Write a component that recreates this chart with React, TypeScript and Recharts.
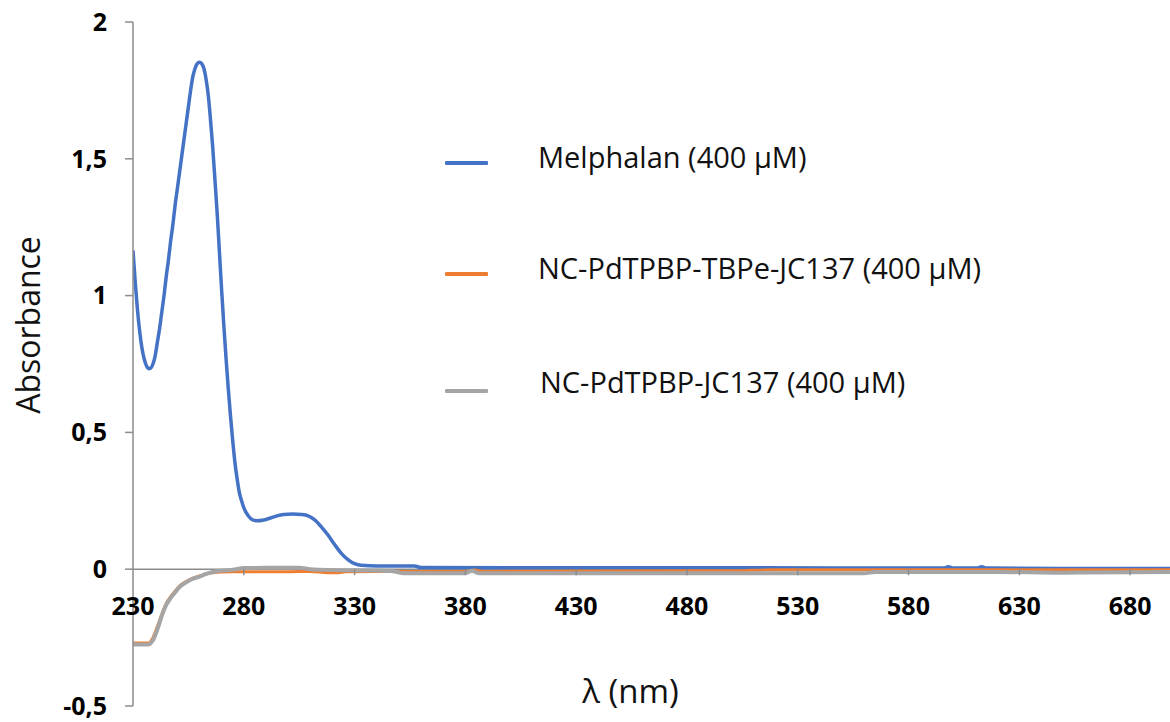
import React from "react";
import { LineChart, Line, XAxis, YAxis, ReferenceLine, Legend, Label } from "recharts";

// ---- Data ----
const melphalanX = [230, 231, 232, 233, 234, 235, 236, 237, 238, 239, 240, 241, 242, 243, 244, 245, 246, 247, 248, 249, 250, 251, 252, 253, 254, 255, 256, 257, 258, 259, 260, 261, 262, 263, 264, 265, 266, 267, 268, 269, 270, 271, 272, 273, 274, 275, 276, 277, 278, 279, 280, 282, 284, 286, 289, 292, 295, 298, 302, 306, 309, 312, 315, 318, 321, 324, 327, 330, 333, 340, 357, 360, 400, 500, 596, 598, 600, 611, 613, 615, 650, 698];
const melphalanY = [1.165, 1.05, 0.95, 0.87, 0.81, 0.77, 0.745, 0.733, 0.735, 0.75, 0.78, 0.83, 0.88, 0.94, 1.0, 1.07, 1.13, 1.2, 1.26, 1.33, 1.39, 1.45, 1.51, 1.57, 1.63, 1.69, 1.75, 1.8, 1.83, 1.848, 1.853, 1.848, 1.83, 1.79, 1.73, 1.64, 1.54, 1.42, 1.3, 1.16, 1.02, 0.89, 0.77, 0.66, 0.56, 0.47, 0.39, 0.33, 0.28, 0.25, 0.225, 0.195, 0.18, 0.177, 0.18, 0.187, 0.195, 0.2, 0.202, 0.2, 0.195, 0.18, 0.155, 0.125, 0.09, 0.058, 0.035, 0.02, 0.014, 0.012, 0.012, 0.006, 0.005, 0.005, 0.004, 0.009, 0.004, 0.004, 0.009, 0.004, 0.003, 0.003];

const tbpeX = [230, 237, 239, 241, 243, 245, 247, 249, 251, 254, 257, 260, 263, 266, 270, 275, 280, 300, 310, 318, 322, 326, 340, 380, 384, 388, 500, 520, 600, 698];
const tbpeY = [-0.27, -0.27, -0.25, -0.21, -0.165, -0.125, -0.1, -0.08, -0.062, -0.045, -0.033, -0.025, -0.018, -0.013, -0.01, -0.009, -0.009, -0.009, -0.008, -0.013, -0.013, -0.009, -0.008, -0.008, -0.003, -0.008, -0.006, -0.002, -0.002, -0.002];

const jc137X = [230, 237, 239, 241, 243, 245, 247, 249, 251, 254, 257, 260, 263, 266, 270, 275, 280, 290, 305, 310, 320, 340, 348, 352, 380, 383, 386, 560, 565, 620, 650, 660, 698];
const jc137Y = [-0.275, -0.275, -0.26, -0.22, -0.17, -0.13, -0.105, -0.085, -0.065, -0.048, -0.035, -0.027, -0.017, -0.01, -0.005, -0.002, 0.004, 0.005, 0.005, 0.0, -0.003, -0.005, -0.008, -0.015, -0.015, -0.006, -0.015, -0.015, -0.01, -0.01, -0.013, -0.012, -0.01];

const xTicks = [230, 280, 330, 380, 430, 480, 530, 580, 630, 680];
const yTicks = [-0.5, 0, 0.5, 1, 1.5, 2];
const seriesNames = ["Melphalan (400 µM)", "NC-PdTPBP-TBPe-JC137 (400 µM)", "NC-PdTPBP-JC137 (400 µM)"];
const seriesColors = ["#4472C4", "#ED7D31", "#A5A5A5"];

const zip = (xs: number[], ys: number[]) => xs.map((x, i) => ({ x, y: ys[i] }));
const melphalanData = zip(melphalanX, melphalanY);
const tbpeData = zip(tbpeX, tbpeY);
const jc137Data = zip(jc137X, jc137Y);

// ---- Layout ----
const W = 1170;
const H = 722;
const X_AXIS_H = 16;
const MARGIN = { top: 22, right: 0, bottom: 0, left: 0 };
const Y_AXIS_W = 133;
const Y_MIN = -0.5;
const Y_MAX = 2;
const PLOT_H = H - MARGIN.top - MARGIN.bottom - X_AXIS_H;
const ZERO_Y = MARGIN.top + (PLOT_H * (Y_MAX - 0)) / (Y_MAX - Y_MIN);
const FONT = "'Open Sans', 'DejaVu Sans', sans-serif";
const AXIS_COLOR = "#8C8C8C";
const TICK_FONT_SIZE = 25;

const XTick = (props: any) => {
  const { x, payload } = props;
  return (
    <g>
      {payload.value !== 230 && (
        <line x1={x} x2={x} y1={ZERO_Y} y2={ZERO_Y + 6} stroke={AXIS_COLOR} strokeWidth={1.5} />
      )}
      <text
        x={x}
        y={ZERO_Y + 36}
        textAnchor="middle"
        dominantBaseline="central"
        fontFamily={FONT}
        fontWeight="bold"
        fontSize={TICK_FONT_SIZE}
        fill="#000"
      >
        {payload.value}
      </text>
    </g>
  );
};

const renderLegend = () => {
  const lineCenters = [33, 144, 261];
  const textShift = [-6, -6, -9];
  const textLeft = [93, 93, 95];
  return (
    <div style={{ position: "relative", width: 600, height: 300 }}>
      {seriesNames.map((name, i) => (
        <div key={name} style={{ position: "absolute", left: 0, top: lineCenters[i] - 20, height: 40, width: 600 }}>
          <span
            style={{ position: "absolute", left: 0, top: 18, width: 43, height: 4, background: seriesColors[i], borderRadius: 1 }}
          />
          <span
            style={{
              position: "absolute",
              left: textLeft[i],
              top: textShift[i],
              lineHeight: "40px",
              fontFamily: FONT,
              fontSize: 29,
              color: "#111",
              whiteSpace: "nowrap",
            }}
          >
            {name}
          </span>
        </div>
      ))}
    </div>
  );
};

export default function App() {
  return (
    <div style={{ position: "absolute", left: 0, top: 0, width: W, height: H, background: "#fff" }}>
      <LineChart width={W} height={H} margin={MARGIN}>
        <XAxis
          type="number"
          dataKey="x"
          domain={[230, 698]}
          ticks={xTicks}
          allowDataOverflow
          axisLine={false}
          tickLine={false}
          height={X_AXIS_H}
          tick={<XTick />}
          interval={0}
        >
          <Label
            content={(p: any) => {
              const vb = p.viewBox || { x: Y_AXIS_W, y: H - X_AXIS_H, width: W - Y_AXIS_W };
              return (
                <text
                  x={vb.x + vb.width / 2 - 21}
                  y={vb.y - 16}
                  textAnchor="middle"
                  dominantBaseline="central"
                  fontFamily={FONT}
                  fontSize={33}
                  fill="#111"
                >
                  λ (nm)
                </text>
              );
            }}
          />
        </XAxis>
        <YAxis
          type="number"
          domain={[Y_MIN, Y_MAX]}
          ticks={yTicks}
          width={Y_AXIS_W}
          allowDataOverflow
          tickSize={8}
          tickMargin={18}
          stroke={AXIS_COLOR}
          axisLine={{ stroke: AXIS_COLOR, strokeWidth: 1.5 }}
          tickLine={{ stroke: AXIS_COLOR, strokeWidth: 1.5 }}
          tick={{ fontFamily: FONT, fontWeight: "bold", fontSize: TICK_FONT_SIZE, fill: "#000" }}
          tickFormatter={(v: number) => String(v).replace(".", ",")}
        >
          <Label
            content={() => (
              <text
                x={27}
                y={325}
                transform="rotate(-90 27 325)"
                textAnchor="middle"
                dominantBaseline="central"
                fontFamily={FONT}
                fontSize={32}
                fill="#111"
              >
                Absorbance
              </text>
            )}
          />
        </YAxis>
        <ReferenceLine y={0} stroke={AXIS_COLOR} strokeWidth={1.5} />
        <Legend
          layout="horizontal"
          verticalAlign="middle"
          align="center"
          content={renderLegend}
          wrapperStyle={{ position: "absolute", left: 445, top: 130, width: 600, height: 300 }}
        />
        <Line
          data={melphalanData}
          dataKey="y"
          name={seriesNames[0]}
          type="monotone"
          stroke={seriesColors[0]}
          strokeWidth={3.5}
          dot={false}
          isAnimationActive={false}
        />
        <Line
          data={tbpeData}
          dataKey="y"
          name={seriesNames[1]}
          type="monotone"
          stroke={seriesColors[1]}
          strokeWidth={3}
          dot={false}
          isAnimationActive={false}
        />
        <Line
          data={jc137Data}
          dataKey="y"
          name={seriesNames[2]}
          type="monotone"
          stroke={seriesColors[2]}
          strokeWidth={4}
          dot={false}
          isAnimationActive={false}
        />
      </LineChart>
    </div>
  );
}
